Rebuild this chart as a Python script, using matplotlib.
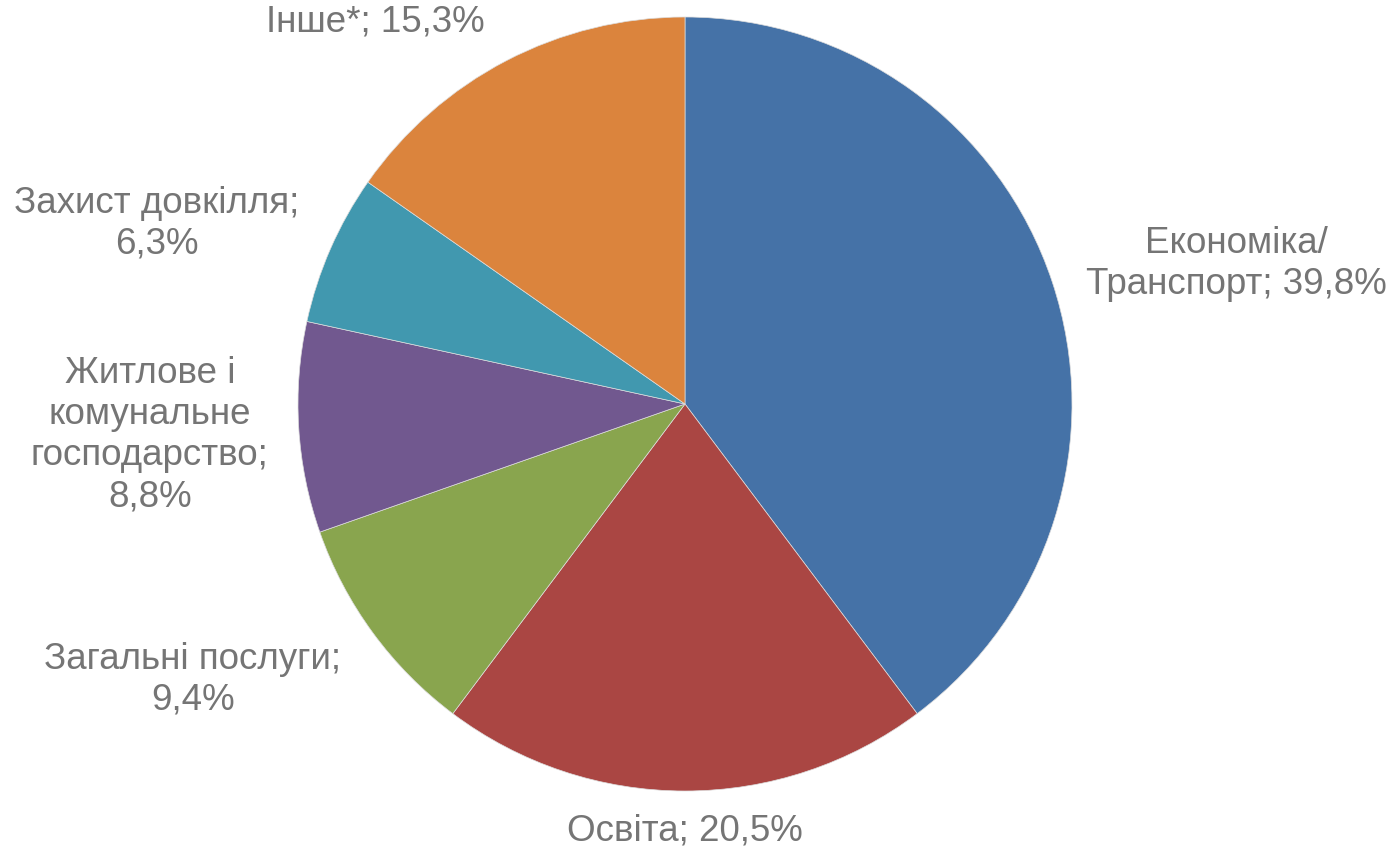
import matplotlib
matplotlib.use("Agg")
import matplotlib.pyplot as plt

categories = ["Економіка/\nТранспорт", "Освіта", "Загальні послуги",
              "Житлове і\nкомунальне\nгосподарство", "Захист довкілля", "Інше*"]
values = [39.8, 20.5, 9.4, 8.8, 6.3, 15.3]
label_texts = ["Економіка/\nТранспорт; 39,8%", "Освіта; 20,5%", "Загальні послуги;\n9,4%",
               "Житлове і\nкомунальне\nгосподарство;\n8,8%", "Захист довкілля;\n6,3%", "Інше*; 15,3%"]
colors = ["#4572A7", "#AA4643", "#89A54E", "#71588F", "#4198AF", "#DB843D"]

# label positions (layout, in pie-radius units)
label_pos = [(1.424, 0.365), (0.0, -1.10), (-1.272, -0.71), (-1.383, -0.078), (-1.365, 0.468), (-0.80, 0.99)]

plt.rcParams['font.family'] = ['Liberation Sans', 'DejaVu Sans']

fig = plt.figure(figsize=(13.94, 8.53), dpi=100)
ax = fig.add_axes([0, 0, 1, 1])
ax.pie(values, colors=colors, startangle=90, counterclock=False, radius=1.0,
       wedgeprops=dict(edgecolor="#dddddd", linewidth=0.5))
for txt, (x, y) in zip(label_texts, label_pos):
    ax.text(x, y, txt, ha="center", va="center", fontsize=26.5, color="#757575",
            linespacing=1.22)
ax.set_xlim(-685/387, (1394-685)/387)
ax.set_ylim(-(853-405)/387, 405/387)
ax.set_aspect("auto")
ax.axis("off")
fig.savefig("out.png", dpi=100)
